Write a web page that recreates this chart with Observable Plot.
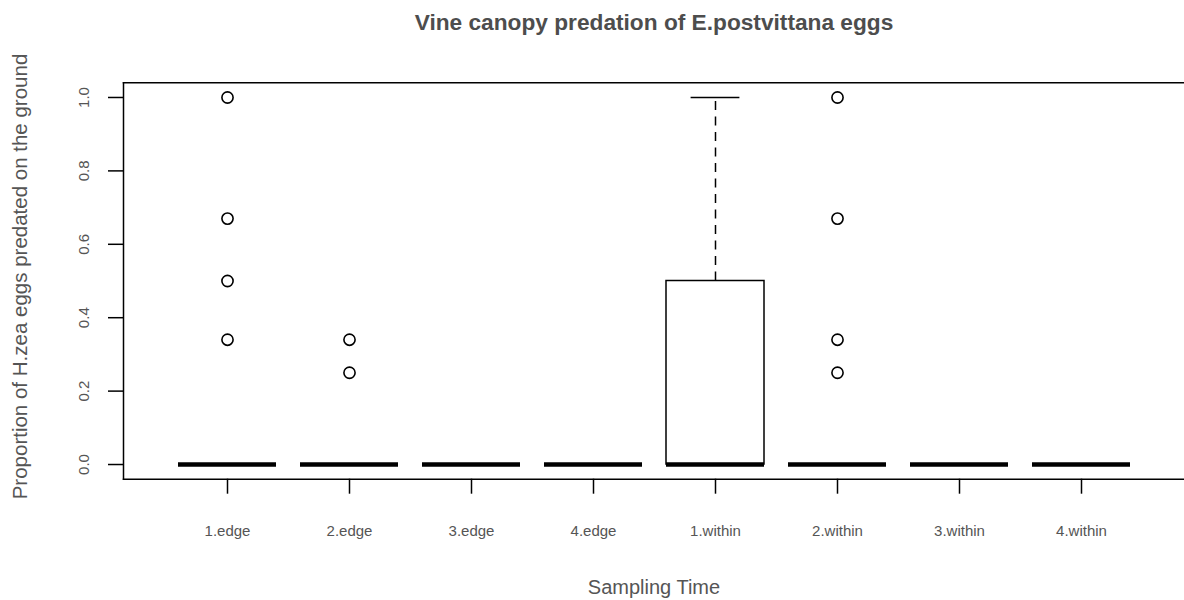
<!DOCTYPE html>
<html>
<head>
<meta charset="utf-8">
<script src="https://cdn.jsdelivr.net/npm/d3@7"></script>
<script src="https://cdn.jsdelivr.net/npm/@observablehq/plot@0.6"></script>
<style>
  html, body { margin: 0; padding: 0; background: #fff; }
</style>
</head>
<body>
<script>
// ---- data ----
const title = "Vine canopy predation of E.postvittana eggs";
const xLabel = "Sampling Time";
const yLabel = "Proportion of H.zea eggs predated on the ground";

const groups = ["1.edge", "2.edge", "3.edge", "4.edge", "1.within", "2.within", "3.within", "4.within"];
const whiskerLow = [0, 0, 0, 0, 0, 0, 0, 0];
const q1 = [0, 0, 0, 0, 0, 0, 0, 0];
const medians = [0, 0, 0, 0, 0, 0, 0, 0];
const q3 = [0, 0, 0, 0, 0.5, 0, 0, 0];
const whiskerHigh = [0, 0, 0, 0, 1.0, 0, 0, 0];

const outlierGroups = ["1.edge", "1.edge", "1.edge", "1.edge", "2.edge", "2.edge", "2.within", "2.within", "2.within", "2.within"];
const outlierValues = [1.0, 0.67, 0.5, 0.34, 0.34, 0.25, 1.0, 0.67, 0.34, 0.25];

const yTicks = [0, 0.2, 0.4, 0.6, 0.8, 1.0];

// ---- tables built from the arrays ----
const boxes = groups.map((g, i) => ({
  group: g, lo: whiskerLow[i], q1: q1[i], median: medians[i], q3: q3[i], hi: whiskerHigh[i]
}));
const outliers = outlierGroups.map((g, i) => ({group: g, value: outlierValues[i]}));

const ink = "#000";
const textCol = "#555";
const lw = 1.5;

const chart = Plot.plot({
  width: 1184,
  height: 600,
  marginLeft: 123,
  marginRight: 0,
  marginTop: 82.3,
  marginBottom: 121.3,
  style: {fontFamily: "'Liberation Sans', Arial, Helvetica, sans-serif", background: "#fff", color: "#000"},
  x: {type: "band", domain: groups, range: [162.6, 1145.6], paddingInner: 0.2, paddingOuter: 0.1, label: null},
  y: {domain: [-0.04, 1.04], label: null},
  marks: [
    // plot border (right side falls outside the picture)
    Plot.frame({anchor: "top", stroke: ink, strokeWidth: lw}),
    Plot.frame({anchor: "bottom", stroke: ink, strokeWidth: lw}),
    Plot.frame({anchor: "left", stroke: ink, strokeWidth: lw}),
    // axes
    Plot.axisX({tickSize: 15, tickPadding: 31.6, fontSize: 15, fill: textCol, stroke: ink, strokeWidth: lw, label: null}),
    Plot.axisY({ticks: yTicks, tickSize: 15, tickFormat: () => "", stroke: ink, strokeWidth: lw, label: null}),
    Plot.text(yTicks, {y: d => d, text: d => d3.format(".1f")(d), frameAnchor: "left", rotate: -90,
      dx: -39.5, lineAnchor: "middle", textAnchor: "middle", fontSize: 15, fill: textCol}),
    // whiskers
    Plot.ruleX(boxes, {x: "group", y1: "q3", y2: "hi", stroke: ink, strokeWidth: lw, strokeDasharray: "9,6.5"}),
    Plot.ruleX(boxes, {x: "group", y1: "lo", y2: "q1", stroke: ink, strokeWidth: lw, strokeDasharray: "9,6.5"}),
    Plot.tickY(boxes, {x: "group", y: "hi", stroke: ink, strokeWidth: lw, insetLeft: 24.6, insetRight: 24.6}),
    Plot.tickY(boxes, {x: "group", y: "lo", stroke: ink, strokeWidth: lw, insetLeft: 24.6, insetRight: 24.6}),
    // boxes
    Plot.barY(boxes, {x: "group", y1: "q1", y2: "q3", fill: "#fff", stroke: ink, strokeWidth: lw}),
    // medians
    Plot.tickY(boxes, {x: "group", y: "median", stroke: ink, strokeWidth: 4.7, strokeLinecap: "butt"}),
    // outliers
    Plot.dot(outliers, {x: "group", y: "value", r: 5.6, stroke: ink, strokeWidth: 1.6, fill: "none"}),
    // titles
    Plot.text([title], {frameAnchor: "top", dy: -59.7, lineAnchor: "middle", fontSize: 22.7, fontWeight: "bold", fill: "#4d4d4d"}),
    Plot.text([xLabel], {frameAnchor: "bottom", dy: 108, lineAnchor: "middle", fontSize: 20, fill: textCol}),
    Plot.text([yLabel], {frameAnchor: "left", rotate: -90, dx: -102.7, dy: -4.5, lineAnchor: "middle", textAnchor: "middle", fontSize: 20.5, fill: textCol})
  ]
});
document.body.append(chart);
</script>
</body>
</html>
